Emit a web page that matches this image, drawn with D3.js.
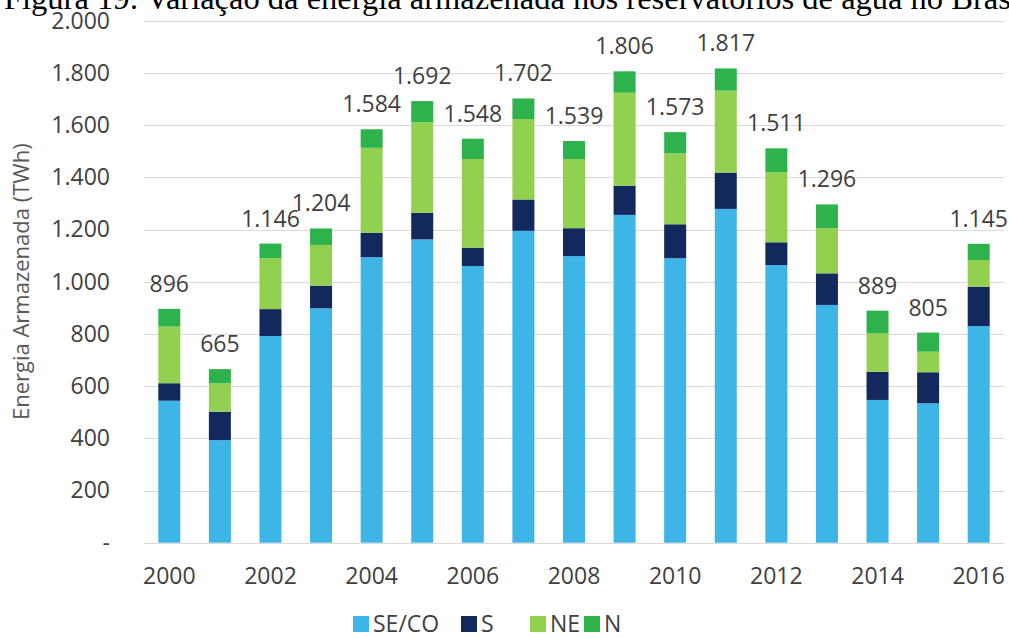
<!doctype html>
<html>
<head>
	<meta charset="UTF-8">
	<title>Energia Armazenada</title>
	<script src="https://d3js.org/d3.v7.min.js"></script>
	<style>
		body { margin: 0; background: #fff; }
		svg { display: block; }
	</style>
</head>
<body>
	<script>
		// data (TWh)
		var years  = [2000, 2001, 2002, 2003, 2004, 2005, 2006, 2007, 2008, 2009, 2010, 2011, 2012, 2013, 2014, 2015, 2016];
		var seco   = [544, 393, 792, 898, 1094, 1162, 1060, 1195, 1098, 1256, 1090, 1279, 1064, 911, 547, 534, 830];
		var sul    = [67, 109, 103, 87, 94, 102, 70, 120, 107, 112, 130, 139, 87, 121, 108, 119, 151];
		var ne     = [217, 109, 195, 156, 325, 347, 340, 308, 265, 356, 272, 314, 268, 173, 147, 79, 102];
		var norte  = [68, 54, 56, 63, 71, 81, 78, 79, 69, 82, 81, 85, 92, 91, 87, 73, 62];
		var totals = [896, 665, 1146, 1204, 1584, 1692, 1548, 1702, 1539, 1806, 1573, 1817, 1511, 1296, 889, 805, 1145];
		var seriesNames = ["SE/CO", "S", "NE", "N"];
		var yTicks = [0, 200, 400, 600, 800, 1000, 1200, 1400, 1600, 1800, 2000];
		var xTicks = [2000, 2002, 2004, 2006, 2008, 2010, 2012, 2014, 2016];

		var colours = ["#3db5e6", "#13285d", "#92d050", "#2eb24b"];

		var width = 1009, height = 638;
		var plotLeft = 144, plotRight = 1004, plotTop = 20.7, plotBottom = 542.7;

		var svg = d3.select("body").append("svg")
			.attr("width", width)
			.attr("height", height);

		// figure caption, cut off at the top of the picture
		svg.append("text")
			.attr("x", 4)
			.attr("y", 9)
			.attr("font-family", "Liberation Serif, Times New Roman, serif")
			.attr("font-size", 32.5)
			.attr("fill", "#000")
			.text("Figura 19: Variação da energia armazenada nos reservatórios de água no Brasil");

		var x = d3.scaleBand()
			.domain(years)
			.range([plotLeft, plotRight])
			.paddingInner(0.565)
			.paddingOuter(0.2825);

		var y = d3.scaleLinear()
			.domain([0, 2000])
			.range([plotBottom, plotTop]);

		var br = d3.formatLocale({decimal: ",", thousands: ".", grouping: [3], currency: ["R$", ""]});
		var fmt = br.format(",d");

		// gridlines
		svg.append("g")
			.selectAll("line")
			.data(yTicks)
			.join("line")
				.attr("x1", plotLeft)
				.attr("x2", plotRight)
				.attr("y1", function(d) { return Math.round(y(d)) + 0.5; })
				.attr("y2", function(d) { return Math.round(y(d)) + 0.5; })
				.attr("stroke", "#d9d9d9")
				.attr("stroke-width", 1.2);

		// y axis labels
		var yAxis = svg.append("g")
			.attr("transform", "translate(" + plotLeft + ",0)")
			.call(d3.axisLeft(y).tickValues(yTicks).tickSize(0).tickPadding(34)
				.tickFormat(function(d) { return d === 0 ? "-" : fmt(d); }));
		yAxis.select(".domain").remove();
		yAxis.selectAll("text")
			.attr("font-family", "Open Sans, sans-serif")
			.attr("font-size", 23)
			.attr("fill", "#404040");

		// x axis labels
		var xAxis = svg.append("g")
			.attr("transform", "translate(0," + plotBottom + ")")
			.call(d3.axisBottom(x).tickValues(xTicks).tickSize(0).tickPadding(25));
		xAxis.select(".domain").remove();
		xAxis.selectAll("text")
			.attr("font-family", "Open Sans, sans-serif")
			.attr("font-size", 23)
			.attr("fill", "#404040");

		// y axis title
		svg.append("text")
			.attr("transform", "translate(29," + ((plotTop + plotBottom) / 2) + ") rotate(-90)")
			.attr("text-anchor", "middle")
			.attr("font-family", "Open Sans, sans-serif")
			.attr("font-size", 22)
			.attr("fill", "#595959")
			.text("Energia Armazenada (TWh)");

		// stacked bars
		var table = years.map(function(yr, i) {
			return {year: yr, "SE/CO": seco[i], "S": sul[i], "NE": ne[i], "N": norte[i], total: totals[i]};
		});
		var stack = d3.stack().keys(seriesNames)(table);

		svg.append("g")
			.selectAll("g")
			.data(stack)
			.join("g")
				.attr("fill", function(d, i) { return colours[i]; })
			.selectAll("rect")
			.data(function(d) { return d; })
			.join("rect")
				.attr("x", function(d) { return x(d.data.year); })
				.attr("width", x.bandwidth())
				.attr("y", function(d) { return y(d[1]); })
				.attr("height", function(d) { return y(d[0]) - y(d[1]); });

		// total labels
		svg.append("g")
			.selectAll("text")
			.data(table)
			.join("text")
				.attr("x", function(d) { return x(d.year) + x.bandwidth() / 2; })
				.attr("y", function(d) { return y(d3.sum(seriesNames, function(k) { return d[k]; })) - 17; })
				.attr("text-anchor", "middle")
				.attr("font-family", "Open Sans, sans-serif")
				.attr("font-size", 23)
				.attr("fill", "#404040")
				.text(function(d) { return fmt(d.total); });

		// legend
		var legendX = [353, 461, 530, 584];
		var legend = svg.append("g")
			.selectAll("g")
			.data(seriesNames)
			.join("g")
				.attr("transform", function(d, i) { return "translate(" + legendX[i] + ",616)"; });
		legend.append("rect")
			.attr("width", 16)
			.attr("height", 16)
			.attr("fill", function(d, i) { return colours[i]; });
		legend.append("text")
			.attr("x", 20)
			.attr("y", 16)
			.attr("font-family", "Open Sans, sans-serif")
			.attr("font-size", 23)
			.attr("fill", "#404040")
			.text(function(d) { return d; });
	</script>
</body>
</html>
